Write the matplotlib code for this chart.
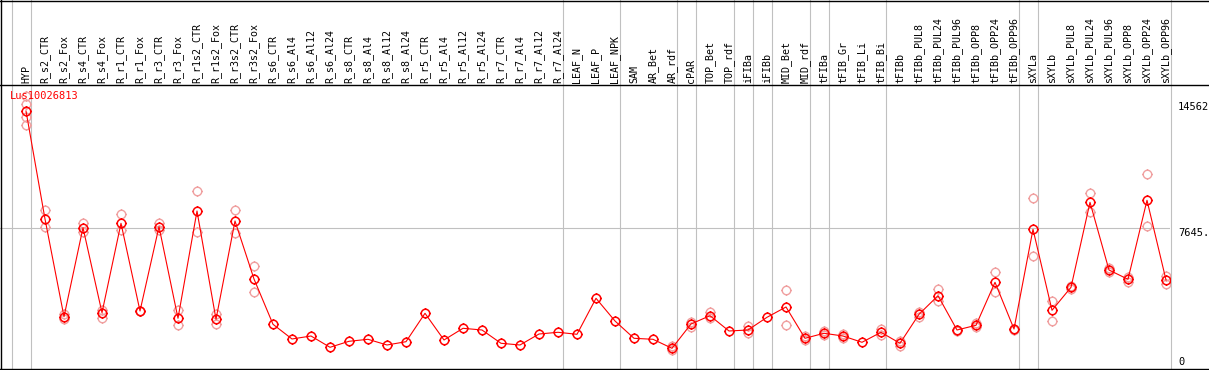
import numpy as np
import matplotlib
matplotlib.use("Agg")
import matplotlib.pyplot as plt
from matplotlib.path import Path
from matplotlib.lines import Line2D

# --- data ---
gene = "Lus10026813"

categories = [
    "HYP", "R_s2_CTR", "R_s2_Fox", "R_s4_CTR", "R_s4_Fox", "R_r1_CTR", "R_r1_Fox",
    "R_r3_CTR", "R_r3_Fox", "R_r1s2_CTR", "R_r1s2_Fox", "R_r3s2_CTR", "R_r3s2_Fox",
    "R_s6_CTR", "R_s6_Al4", "R_s6_Al12", "R_s6_Al24", "R_s8_CTR", "R_s8_Al4",
    "R_s8_Al12", "R_s8_Al24", "R_r5_CTR", "R_r5_Al4", "R_r5_Al12", "R_r5_Al24",
    "R_r7_CTR", "R_r7_Al4", "R_r7_Al12", "R_r7_Al24", "LEAF_N", "LEAF_P", "LEAF_NPK",
    "SAM", "AR_Bet", "AR_rdf", "cPAR", "TOP_Bet", "TOP_rdf", "iFIBa", "iFIBb",
    "MID_Bet", "MID_rdf", "tFIBa", "tFIB_Gr", "tFIB_Li", "tFIB_Bi", "tFIBb",
    "tFIBb_PUL8", "tFIBb_PUL24", "tFIBb_PUL96", "tFIBb_OPP8", "tFIBb_OPP24",
    "tFIBb_OPP96", "sXYLa", "sXYLb", "sXYLb_PUL8", "sXYLb_PUL24", "sXYLb_PUL96",
    "sXYLb_OPP8", "sXYLb_OPP24", "sXYLb_OPP96",
]

means = [
    14562, 8176, 2400, 7662, 2637, 7922, 2737, 7721, 2306, 8649, 2247, 8058, 4629,
    1951, 1082, 1259, 591, 946, 1064, 727, 922, 2601, 1023, 1714, 1614,
    828, 727, 1377, 1478, 1360, 3488, 2146,
    1123, 1064, 532, 1969, 2459, 1555, 1614, 2365,
    2974, 1123, 1419, 1259, 887, 1478, 828,
    2542, 3642, 1614, 1892, 4434, 1673,
    7567, 2779, 4138, 9163, 5161, 4611, 9282, 4570,
]

reps = [
    [15450, 14950, 14200, 13750], [8710, 7690], [2560, 2250], [7920, 7430],
    [2800, 2310], [8470, 7530], [2760, 2720], [7920, 7530], [2800, 1890],
    [9830, 7430], [2560, 1950], [8710, 7330], [5400, 3860],
    [], [], [], [], [], [], [], [], [], [], [], [],
    [], [], [], [], [], [], [],
    [], [], [640, 420], [2105, 1774], [2700, 2300], [], [1850, 1420], [],
    [3980, 1890], [1260, 1000], [1560, 1300], [1400, 1120], [], [1650, 1320], [980, 670],
    [2700, 2400], [4020, 3350], [1640, 1580], [2000, 1780], [5025, 3843], [1700, 1640],
    [9400, 5990], [3347, 2146], [4200, 4050], [9700, 8610], [5060, 5260],
    [4740, 4480], [10820, 7760], [4820, 4320],
]

# index of last sample in each group (vertical separators)
group_ends = [-1, 0, 28, 31, 34, 35, 37, 38, 39, 41, 42, 45, 52, 53, 60]

axis_values = [14562, 7645, 0]
axis_labels = ["14562", "7645.", "0"]

# --- figure ---
W, H = 1209, 370
fig = plt.figure(figsize=(W / 100, H / 100), dpi=100)
ax = fig.add_axes([0, 2 / H, 1170 / W, 283 / H])

mono = "DejaVu Sans Mono"
grey = "#c0c0c0"
red = "#ff0000"
pink = "#f0a0a0"

# circle marker with four tiny ticks
t = np.linspace(0, 2 * np.pi, 49)
circ = Path(np.column_stack([np.cos(t), np.sin(t)]), closed=True)
ticks = [Path([(0, 1), (0, 1.25)]), Path([(0, -1), (0, -1.25)]),
         Path([(1, 0), (1.25, 0)]), Path([(-1, 0), (-1.25, 0)])]
mk = Path.make_compound_path(circ, *ticks)
msz = 7.6

x = np.arange(len(categories))

ax.axhline(7645, color=grey, lw=0.8, zorder=0)
for g in group_ends:
    ax.axvline(g + 0.237, ymin=0, ymax=368 / 283, clip_on=False, color=grey, lw=0.8, zorder=0)

rx, ry = [], []
for i, r in enumerate(reps):
    rx += [i] * len(r)
    ry += r
ax.plot(rx, ry, ls="none", marker=mk, ms=msz, mfc="none", mec=pink, mew=1.0, zorder=2)

ax.plot(x, means, color=red, lw=0.8, zorder=3)
ax.plot(x, means, ls="none", marker=mk, ms=msz, mfc="none", mec=red, mew=1.1, zorder=4)

ax.set_xlim(-26 / 19, 1144 / 19)
ax.set_ylim(-633, 16098)
for s in ax.spines.values():
    s.set_visible(False)
ax.set_yticks([])
ax.set_xticks(x)
ax.set_xticklabels(categories, rotation=90, fontfamily=mono, fontsize=7.2)
ax.xaxis.tick_top()
ax.tick_params(axis="x", length=0, pad=1.5)

# right value labels
for v, s, dy in zip(axis_values, axis_labels, [4, -4.6, -4.4]):
    ax.annotate(s, xy=(1, v), xycoords=("axes fraction", "data"), xytext=(8, dy),
                textcoords="offset pixels", va="center", ha="left",
                fontfamily=mono, fontsize=7.5, annotation_clip=False)

fig.text(10 / W, 1 - 96 / H, gene, color=red, fontfamily=mono, fontsize=7.5,
         va="center", ha="left")

# black frame lines
for yy in [0.5, 85, 368.5]:
    fig.add_artist(Line2D([0, 1], [1 - yy / H] * 2, color="black", lw=1.0))
fig.add_artist(Line2D([0.5 / W] * 2, [0, 1], color="black", lw=1.0))

fig.savefig("out.png", dpi=100)
